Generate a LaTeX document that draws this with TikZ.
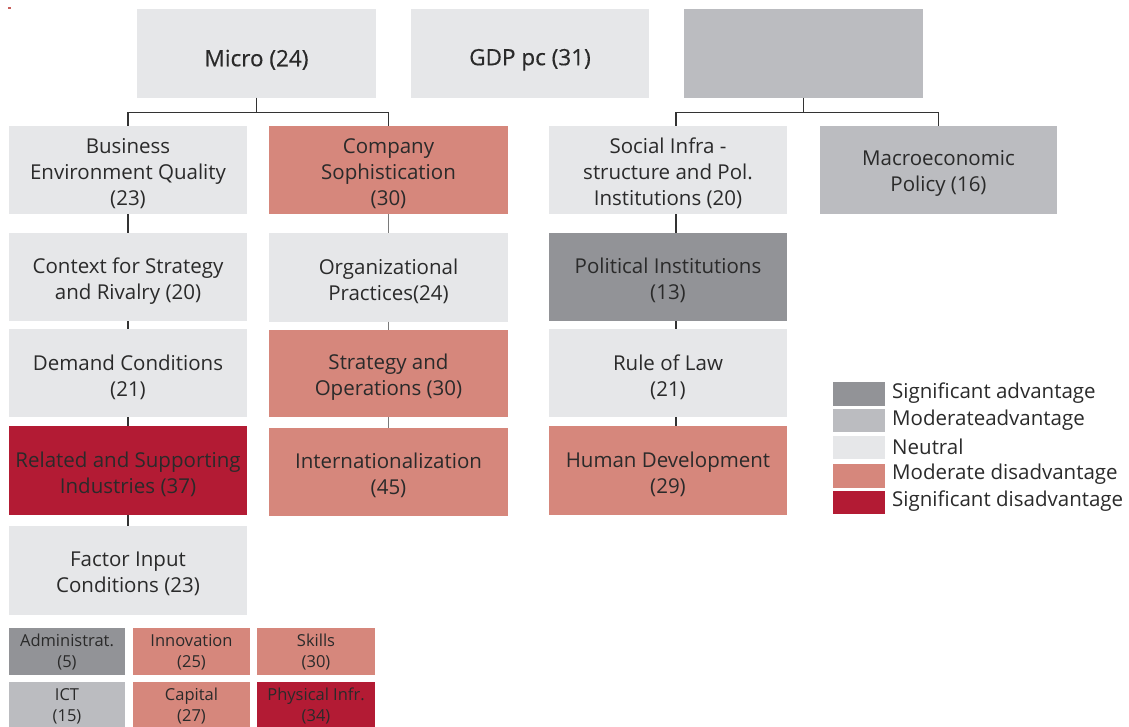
\documentclass[tikz,border=0pt]{standalone}
\usepackage{fontspec}
\setmainfont{Open Sans}
\newfontfamily\medfont[FakeBold=0.4]{Open Sans}
\definecolor{neu}{HTML}{E6E7E9}
\definecolor{madv}{HTML}{BBBCC0}
\definecolor{sadv}{HTML}{929397}
\definecolor{mdis}{HTML}{D6877C}
\definecolor{sdis}{HTML}{B31B34}
\definecolor{txt}{HTML}{2A2A2A}
\definecolor{lnd}{HTML}{333333}
\definecolor{lnl}{HTML}{7A7A7A}
\definecolor{speck}{HTML}{C8605C}
\begin{document}
\begin{tikzpicture}[x=1pt,y=-1pt,
  txtbase/.style={inner sep=0pt, align=center, text=txt},
  boxtxt/.style={txtbase, yshift=-3.8pt, font=\fontsize{20.5}{26}\selectfont},
  toptxt/.style={txtbase, yshift=-6.5pt, font=\medfont\fontsize{22.5}{26}\selectfont},
  smalltxt/.style={txtbase, yshift=-0.6pt, font=\fontsize{16.5}{21.5}\selectfont},
  box/.style={inner sep=0pt, minimum width=238pt, minimum height=88pt,
    label={[boxtxt]center:#1}},
  topbox/.style={inner sep=0pt, minimum width=239pt, minimum height=88.5pt,
    label={[toptxt]center:#1}},
  small/.style={inner sep=0pt, minimum height=47pt, label={[smalltxt]center:#1}},
  legsq/.style={inner sep=0pt, minimum width=52pt, minimum height=24pt},
  legtxt/.style={inner sep=0pt, anchor=west, text=txt, font=\fontsize{20.5}{24}\selectfont},
  conn/.style={draw=lnd, line width=1.2pt},
  connl/.style={draw=lnl, line width=1.2pt}]
\useasboundingbox (0,0) rectangle (1129,727);
\fill[speck] (8,7) rectangle (11,9.5);

% top row
\node[topbox={Micro (24)}, fill=neu] (micro) at (256.5,53.3) {};
\node[topbox={GDP pc (31)}, fill=neu, minimum width=238pt] (gdp) at (530,53.3) {};
\node[topbox={}, fill=madv] (macro) at (803.5,53.3) {};

% row 2
\node[box={Business\\Environment Quality\\(23)}, fill=neu] (bus) at (128,169.9) {};
\node[box={Company\\Sophistication\\(30)}, fill=mdis, minimum width=239pt] (comp) at (388.5,169.9) {};
\node[box={Social Infra -\\structure and Pol.\\Institutions (20)}, fill=neu] (soc) at (668,169.9) {};
\node[box={Macroeconomic\\Policy (16)}, fill=madv, minimum width=237pt] (mpol) at (938.5,169.9) {};

% row 3
\node[box={Context for Strategy\\and Rivalry (20)}, fill=neu] (ctx) at (128,277) {};
\node[box={Organizational\\Practices(24)}, fill=neu, minimum width=239pt] (org) at (388.5,277.5) {};
\node[box={Political Institutions\\(13)}, fill=sadv] (pol) at (668,277) {};

% row 4
\node[box={Demand Conditions\\(21)}, fill=neu, minimum height=87.5pt] (dem) at (128,373.2) {};
\node[box={Strategy and\\Operations (30)}, fill=mdis, minimum width=239pt, minimum height=87pt] (stra) at (388.5,373.5) {};
\node[box={Rule of Law\\(21)}, fill=neu, minimum height=87.5pt] (law) at (668,373.2) {};

% row 5
\node[box={Related and Supporting\\Industries (37)}, fill=sdis, minimum height=88.7pt] (rel) at (128,470.4) {};
\node[box={Internationalization\\(45)}, fill=mdis, minimum width=239pt] (intl) at (388.5,472) {};
\node[box={Human Development\\(29)}, fill=mdis, minimum height=88.7pt] (hum) at (668,470.4) {};

% row 6
\node[box={Factor Input\\Conditions (23)}, fill=neu, minimum height=88.7pt] (fac) at (128,570.3) {};

% small boxes
\node[small={Administrat.\\(5)}, fill=sadv, minimum width=116pt] (adm) at (67,651.5) {};
\node[small={Innovation\\(25)}, fill=mdis, minimum width=117pt] (inn) at (191.5,651.5) {};
\node[small={Skills\\(30)}, fill=mdis, minimum width=118pt] (ski) at (316,651.5) {};
\node[small={ICT\\(15)}, fill=madv, minimum width=116pt] (ict) at (67,705.5) {};
\node[small={Capital\\(27)}, fill=mdis, minimum width=117pt] (cap) at (191.5,705.5) {};
\node[small={Physical Infr.\\(34)}, fill=sdis, minimum width=118pt] (phy) at (316,705.5) {};

% connectors: micro tree
\coordinate (jm) at (256.5,112.5);
\draw[conn] (micro.south) -- (jm);
\draw[conn] (bus.north) |- (jm) -| (comp.north);
% macro tree
\coordinate (jr) at (803.5,112.5);
\coordinate (sx) at (676,0);
\draw[conn] (macro.south) -- (jr);
\draw[conn] (soc.north -| sx) |- (jr) -| (mpol.north);
% columns
\draw[conn] (bus.south) -- (ctx.north);
\draw[conn] (ctx.south) -- (dem.north);
\draw[conn] (dem.south) -- (rel.north);
\draw[conn] (rel.south) -- (fac.north);
\draw[connl] (comp.south) -- (org.north);
\draw[connl] (org.south) -- (stra.north);
\draw[connl] (stra.south) -- (intl.north);
\draw[conn] (soc.south -| sx) -- (pol.north -| sx);
\draw[conn] (pol.south -| sx) -- (law.north -| sx);
\draw[conn] (law.south -| sx) -- (hum.north -| sx);

% legend
\node[legsq, fill=sadv] (l1) at (859,394) {};
\node[legsq, fill=madv, minimum height=23pt] (l2) at (859,420.5) {};
\node[legsq, fill=neu, minimum height=23pt] (l3) at (859,447.5) {};
\node[legsq, fill=mdis] (l4) at (859,476) {};
\node[legsq, fill=sdis, minimum height=23pt] (l5) at (859,502.5) {};
\node[legtxt] (t1) at (892,393) {Significant advantage};
\node[legtxt] (t2) at (892,420) {Moderateadvantage};
\node[legtxt] (t3) at (892,447) {Neutral};
\node[legtxt] (t4) at (892,474) {Moderate disadvantage};
\node[legtxt] (t5) at (892,501.5) {Significant disadvantage};
\end{tikzpicture}
\end{document}
